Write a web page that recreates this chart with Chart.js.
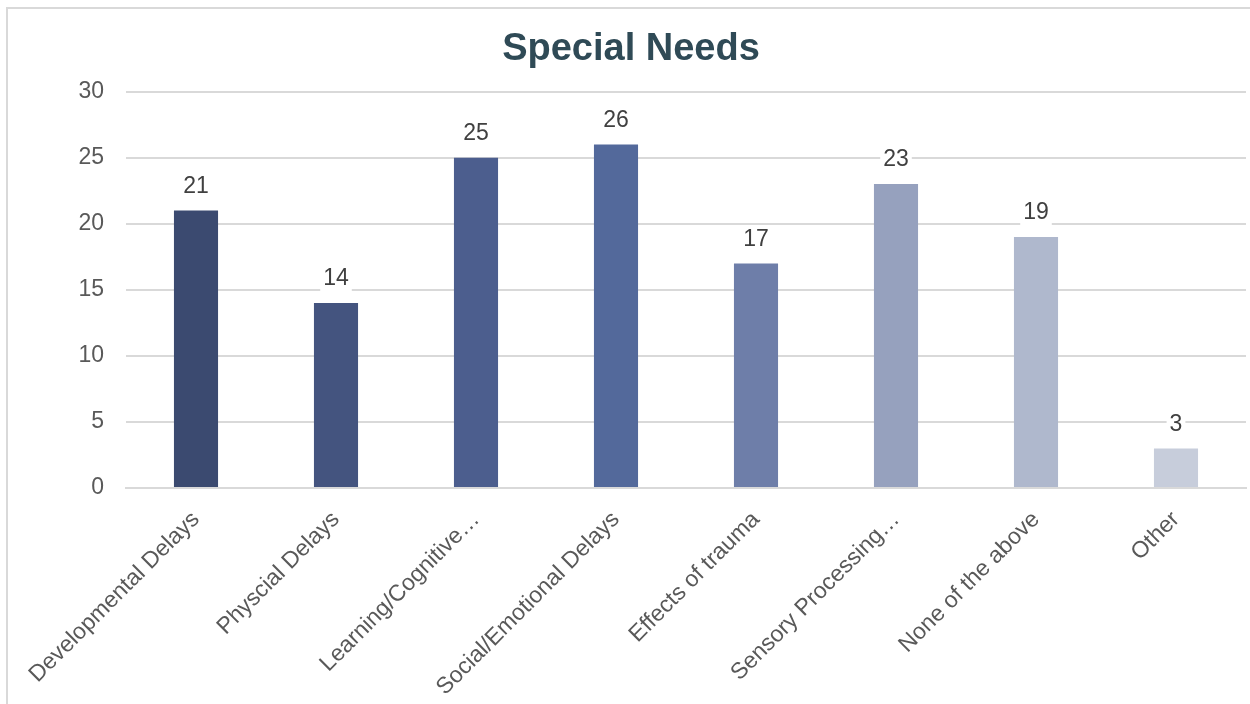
<!DOCTYPE html>
<html>
<head>
<meta charset="utf-8">
<title>Special Needs</title>
<script src="https://cdn.jsdelivr.net/npm/chart.js@4.4.1/dist/chart.umd.min.js"></script>
<style>
  html, body { margin: 0; padding: 0; background: #fff; overflow: hidden; }
  #wrap { position: relative; width: 1250px; height: 704px; overflow: hidden; }
  #frame { position: absolute; left: 6px; top: 7px; width: 1300px; height: 800px; border: 2px solid #d9d9d9; }
  #chart { position: absolute; left: 0; top: 0; }
</style>
</head>
<body>
<div id="wrap">
  <div id="frame"></div>
  <canvas id="chart" width="1250" height="711"></canvas>
</div>
<script>
const categories = [
  'Developmental Delays',
  'Physcial Delays',
  'Learning/Cognitive…',
  'Social/Emotional Delays',
  'Effects of trauma',
  'Sensory Processing…',
  'None of the above',
  'Other'
];
const counts = [21, 14, 25, 26, 17, 23, 19, 3];
const yTicks = [0, 5, 10, 15, 20, 25, 30];
const barColors = ['#3b4a70', '#44547f', '#4c5e8e', '#53699b', '#6e7ea9', '#96a1be', '#afb8cd', '#c7cddb'];

const FONT = '"Liberation Sans", Arial, Helvetica, sans-serif';

// value labels above each bar, with a white box behind them
const valueLabels = {
  id: 'valueLabels',
  afterDatasetsDraw(chart) {
    const ctx = chart.ctx;
    const meta = chart.getDatasetMeta(0);
    ctx.save();
    ctx.font = '23px ' + FONT;
    ctx.textAlign = 'center';
    ctx.textBaseline = 'middle';
    meta.data.forEach((bar, i) => {
      const txt = String(chart.data.datasets[0].data[i]);
      const w = ctx.measureText(txt).width + 6;
      const cy = bar.y - 24;
      ctx.fillStyle = '#ffffff';
      ctx.fillRect(bar.x - w / 2, cy - 12, w, 24);
      ctx.fillStyle = '#404040';
      ctx.fillText(txt, bar.x, cy);
    });
    ctx.restore();
  }
};

new Chart(document.getElementById('chart'), {
  type: 'bar',
  data: {
    labels: categories,
    datasets: [{
      data: counts,
      backgroundColor: barColors,
      barPercentage: 0.63,
      categoryPercentage: 0.5
    }]
  },
  options: {
    responsive: false,
    animation: false,
    layout: { padding: { left: 16, right: 4, top: 8, bottom: 0 } },
    plugins: {
      legend: { display: false },
      tooltip: { enabled: false },
      title: {
        display: true,
        text: 'Special Needs',
        color: '#2f4a56',
        font: { family: FONT, size: 38, weight: 'bold' },
        padding: { top: 19, bottom: 19 }
      }
    },
    scales: {
      x: {
        grid: { display: false },
        border: { display: true, color: '#d9d9d9', width: 2 },
        ticks: {
          color: '#595959',
          font: { family: FONT, size: 23 },
          minRotation: 45,
          maxRotation: 45,
          autoSkip: false,
          padding: 10
        }
      },
      y: {
        min: 0,
        max: 30,
        afterBuildTicks(scale) {
          scale.ticks = yTicks.map(v => ({ value: v }));
        },
        afterFit(scale) {
          scale.width = 110;
        },
        grid: { color: '#d9d9d9', lineWidth: 2, drawTicks: false },
        border: { display: false },
        ticks: {
          color: '#595959',
          font: { family: FONT, size: 23 },
          padding: 22
        }
      }
    }
  },
  plugins: [valueLabels]
});
</script>
</body>
</html>
